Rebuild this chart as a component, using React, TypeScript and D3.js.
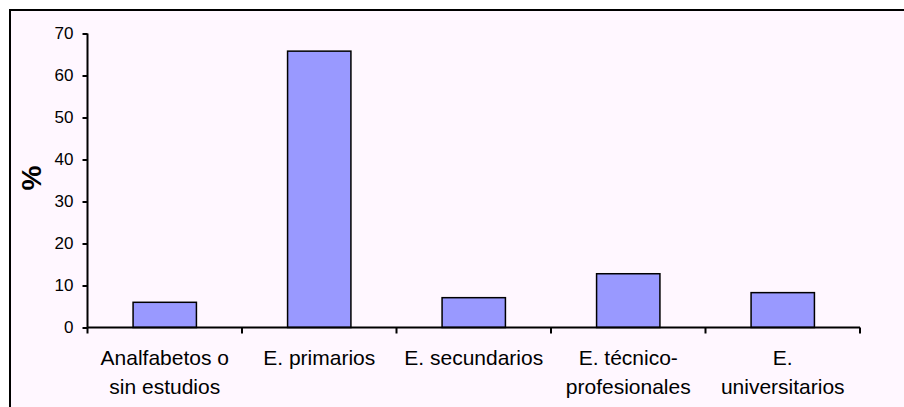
import React, { useRef, useEffect } from "react";
import { select, scaleLinear, scaleBand, axisLeft, range } from "d3";

const categories = [
  "Analfabetos o sin estudios",
  "E. primarios",
  "E. secundarios",
  "E. técnico-profesionales",
  "E. universitarios",
];
// label lines as they are broken in the chart
const labelLines = [
  ["Analfabetos o", "sin estudios"],
  ["E. primarios"],
  ["E. secundarios"],
  ["E. técnico-", "profesionales"],
  ["E.", "universitarios"],
];
const values = [6.0, 65.8, 7.1, 12.8, 8.3];
const yTicks = [0, 10, 20, 30, 40, 50, 60, 70];

const W = 904;
const H = 407;
const FONT = "'Liberation Sans', Arial, sans-serif";

const App = () => {
  const svgRef = useRef<SVGSVGElement>(null);

  useEffect(() => {
    const svg = select(svgRef.current);
    svg.selectAll("*").remove();

    const left = 87.5,
      right = 860,
      top = 33.5,
      bottom = 327.5;

    // chart area background + frame (only top/left edges show)
    svg.append("rect").attr("width", W).attr("height", H).attr("fill", "#ffffff");
    svg
      .append("rect")
      .attr("x", 10)
      .attr("y", 10)
      .attr("width", W + 20)
      .attr("height", H + 20)
      .attr("fill", "#fff7ff")
      .attr("stroke", "#000")
      .attr("stroke-width", 2);

    const yScale = scaleLinear().domain([0, 70]).range([bottom, top]);
    const xScale = scaleBand<string>()
      .domain(categories)
      .range([left, right])
      .paddingInner(0.59)
      .paddingOuter(0.295);
    const catScale = scaleBand<string>().domain(categories).range([left, right]);

    // bars
    svg
      .append("g")
      .selectAll("rect")
      .data(values)
      .enter()
      .append("rect")
      .attr("x", (d, i) => xScale(categories[i])!)
      .attr("y", (d) => yScale(d))
      .attr("width", xScale.bandwidth())
      .attr("height", (d) => bottom - yScale(d))
      .attr("fill", "#9999ff")
      .attr("stroke", "#000")
      .attr("stroke-width", 1.5);

    // y axis
    const yAxis = svg
      .append("g")
      .attr("transform", `translate(${left},0)`)
      .call(axisLeft(yScale).tickValues(yTicks).tickSize(5).tickPadding(9));
    yAxis.select(".domain").attr("d", `M0,${top}V${bottom}`).attr("stroke-width", 2).attr("stroke", "#000");
    yAxis.selectAll(".tick line").attr("stroke-width", 2).attr("stroke", "#000");
    yAxis
      .selectAll(".tick text")
      .attr("font-family", FONT)
      .attr("font-size", 17)
      .attr("fill", "#000");

    // x axis line + category boundary ticks
    const xg = svg.append("g");
    xg.append("line")
      .attr("x1", left)
      .attr("x2", right)
      .attr("y1", bottom)
      .attr("y2", bottom)
      .attr("stroke", "#000")
      .attr("stroke-width", 2);
    const bounds = range(categories.length + 1).map((i) =>
      i < categories.length ? catScale(categories[i])! : right
    );
    xg.selectAll("line.tick")
      .data(bounds)
      .enter()
      .append("line")
      .attr("class", "tick")
      .attr("x1", (d) => d)
      .attr("x2", (d) => d)
      .attr("y1", bottom)
      .attr("y2", bottom + 6)
      .attr("stroke", "#000")
      .attr("stroke-width", 2);

    // category labels
    const lbl = svg
      .append("g")
      .selectAll("text")
      .data(labelLines)
      .enter()
      .append("text")
      .attr("x", (d, i) => catScale(categories[i])! + catScale.bandwidth() / 2)
      .attr("y", 365)
      .attr("text-anchor", "middle")
      .attr("font-family", FONT)
      .attr("font-size", 21)
      .attr("fill", "#000");
    lbl
      .selectAll("tspan")
      .data((d) => d)
      .enter()
      .append("tspan")
      .attr("x", function () {
        return select((this as any).parentNode).attr("x");
      })
      .attr("dy", (d, i) => (i === 0 ? 0 : 29))
      .text((d) => d);

    // y title
    svg
      .append("text")
      .attr("transform", `translate(41,178) rotate(-90)`)
      .attr("text-anchor", "middle")
      .attr("font-family", FONT)
      .attr("font-size", 28)
      .attr("font-weight", "bold")
      .attr("fill", "#000")
      .text("%");
  }, []);

  return (
    <svg
      ref={svgRef}
      width={W}
      height={H}
      style={{ position: "absolute", left: 0, top: 0 }}
    />
  );
};

export default App;
